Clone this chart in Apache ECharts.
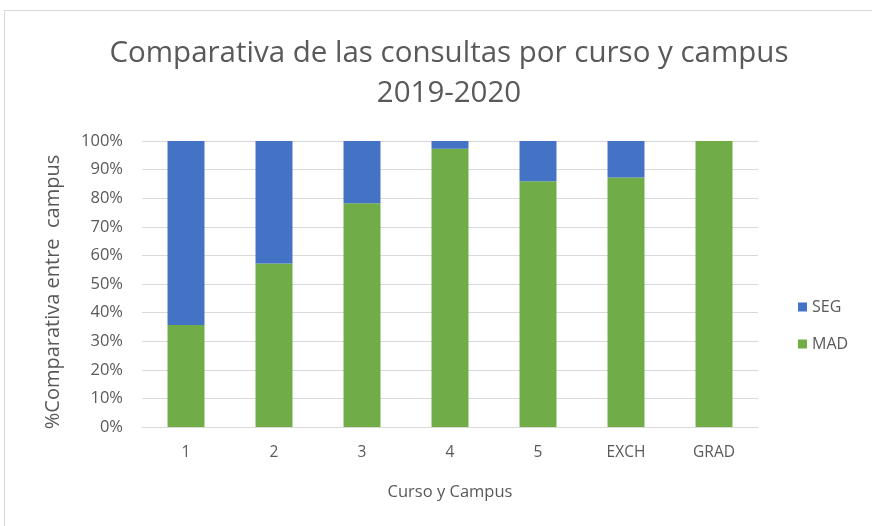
<!DOCTYPE html>
<html>
<head>
<meta charset="utf-8">
<script src="https://cdn.jsdelivr.net/npm/echarts@6/dist/echarts.min.js"></script>
<style>
  html, body { margin: 0; padding: 0; background: #fff; }
  #frame { position: absolute; left: 4px; top: 10px; width: 880px; height: 530px; border: 1px solid #d9d9d9; }
  #chart { position: absolute; left: 0; top: 0; width: 872px; height: 526px; }
</style>
</head>
<body>
<div id="frame"></div>
<div id="chart"></div>
<script>
const categories = ['1', '2', '3', '4', '5', 'EXCH', 'GRAD'];
const madValues = [35.7, 57.2, 78.2, 97.3, 85.9, 87.2, 100];
const segValues = madValues.map(v => +(100 - v).toFixed(1));
const yTicks = [0, 10, 20, 30, 40, 50, 60, 70, 80, 90, 100];

const chart = echarts.init(document.getElementById('chart'));
const font = '"Open Sans", sans-serif';

chart.setOption({
  textStyle: { fontFamily: font },
  title: {
    text: 'Comparativa de las consultas por curso y campus\n2019-2020',
    left: 444,
    top: 29,
    textAlign: 'center',
    textStyle: { fontSize: 29.5, fontWeight: 'normal', color: '#595959', lineHeight: 40, fontFamily: font }
  },
  legend: {
    orient: 'vertical',
    left: 793,
    top: 294,
    itemWidth: 9,
    itemHeight: 9,
    itemGap: 21,
    icon: 'rect',
    data: ['SEG', 'MAD'],
    textStyle: { fontSize: 16, color: '#595959', fontFamily: font }
  },
  grid: { left: 142, right: 114, top: 141, bottom: 99 },
  xAxis: {
    type: 'category',
    data: categories,
    name: 'Curso y Campus',
    nameLocation: 'middle',
    nameGap: 57,
    nameTextStyle: { fontSize: 16.5, color: '#595959', fontFamily: font },
    axisLine: { lineStyle: { color: '#d9d9d9' } },
    axisTick: { show: false },
    axisLabel: { fontSize: 15.5, color: '#595959', margin: 18 }
  },
  yAxis: {
    type: 'value',
    min: yTicks[0],
    max: yTicks[yTicks.length - 1],
    interval: 10,
    name: '%Comparativa entre  campus',
    nameLocation: 'middle',
    nameGap: 79,
    nameTextStyle: { fontSize: 20, color: '#595959', fontFamily: font, padding: [0, 16, 0, 0] },
    axisLine: { show: false },
    axisTick: { show: false },
    splitLine: { lineStyle: { color: '#d9d9d9' } },
    axisLabel: { fontSize: 16.5, color: '#595959', margin: 19, formatter: v => v + '%' }
  },
  series: [
    {
      name: 'MAD',
      type: 'bar',
      stack: 'total',
      barWidth: '42%',
      data: madValues,
      itemStyle: { color: '#70ad47' }
    },
    {
      name: 'SEG',
      type: 'bar',
      stack: 'total',
      barWidth: '42%',
      data: segValues,
      itemStyle: { color: '#4472c4' }
    }
  ]
});
</script>
</body>
</html>
